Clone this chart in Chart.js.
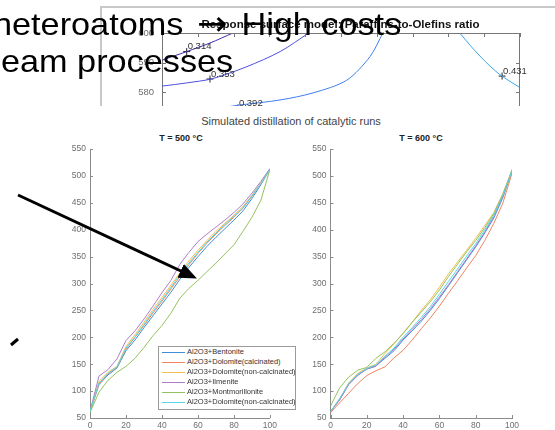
<!DOCTYPE html>
<html>
<head>
<meta charset="utf-8">
<script src="https://cdn.jsdelivr.net/npm/chart.js@4.4.1/dist/chart.umd.min.js"></script>
<style>
html, body { margin: 0; padding: 0; background: #fff; overflow: hidden; }
#page { position: relative; width: 555px; height: 430px; overflow: hidden; background: #fff;
        font-family: "Liberation Sans", Arial, sans-serif; }
#rsm { position: absolute; left: 100px; top: 6px; width: 455px; height: 98px; overflow: hidden;
       border-left: 2px solid #c8c8c8; border-top: 2px solid #c8c8c8; background: #fff; z-index: 1; }
#rsm canvas { position: absolute; left: 0; top: 0; }
.abs { position: absolute; white-space: nowrap; }
.title { text-align: center; z-index: 2; }
.slide { font-size: 32px; line-height: 38px; color: #000; transform: scaleX(1.07); transform-origin: 0 0; z-index: 5; }
.arrow { font-family: "DejaVu Sans", sans-serif; font-size: 34px; margin: 0 4px 0 4px; }
#c500, #c600 { position: absolute; top: 140px; z-index: 2; }
#c500 { left: 40px; }
#c600 { left: 290px; }
#legend { position: absolute; left: 158px; top: 346px; width: 136px; height: 62px; border: 1px solid #9a9a9a;
          background: #fff; z-index: 3; font-size: 7.5px; color: #333; }
#legend .row { position: relative; height: 10px; line-height: 10px; white-space: nowrap; }
#legend .swatch { position: absolute; left: 3px; top: 5px; width: 23px; height: 1px; }
#legend .txt { position: absolute; left: 28px; top: 0; white-space: nowrap; }
#ann { position: absolute; left: 0; top: 0; z-index: 6; }
</style>
</head>
<body>
<div id="page">
  <div id="rsm"><canvas id="rsmChart" width="455" height="180"></canvas></div>
  <div class="abs title" style="left:140px; width:401px; top:17px; line-height:14px; font-size:11.5px; font-weight:bold; color:#111;">Response surface model: Paraffins-to-Olefins ratio</div>

  <div class="abs slide" style="left:-7px; top:4px;">heteroatoms <span class="arrow">→</span> High costs</div>
  <div class="abs slide" style="left:1px; top:42px;">eam processes</div>

  <div class="abs title" style="left:141px; width:300px; top:114px; line-height:14px; font-size:11px; color:#444;">Simulated distillation of catalytic runs</div>
  <div class="abs title" style="left:131px; width:100px; top:132px; line-height:12px; font-size:9px; font-weight:bold; color:#222;">T = 500 °C</div>
  <div class="abs title" style="left:371px; width:100px; top:132px; line-height:12px; font-size:9px; font-weight:bold; color:#222;">T = 600 °C</div>

  <canvas id="c500" width="240" height="300"></canvas>
  <canvas id="c600" width="265" height="300"></canvas>
  <div id="legend"></div>

  <svg id="ann" width="555" height="430">
    <defs>
      <marker id="head" markerWidth="6" markerHeight="5" refX="0.5" refY="2.5" orient="auto" markerUnits="strokeWidth">
        <path d="M0,0 L6,2.5 L0,5 z" fill="#000"></path>
      </marker>
    </defs>
    <line x1="18" y1="195" x2="182" y2="271.5" stroke="#000" stroke-width="3" marker-end="url(#head)"></line>
    <line x1="11" y1="345" x2="18" y2="339" stroke="#000" stroke-width="3"></line>
  </svg>
</div>

<script>
// distillation curves: % distilled vs boiling temperature (°C)
const distilledPct = [0, 5, 10, 15, 20, 25, 30, 35, 40, 45, 50, 55, 60, 65, 70, 75, 80, 85, 90, 95, 100];

const seriesNames = ['Al2O3+Bentonite', 'Al2O3+Dolomite(calcinated)', 'Al2O3+Dolomite(non-calcinated)',
                     'Al2O3+Ilmenite', 'Al2O3+Montmorillonite', 'Al2O3+Dolomite(non-calcinated)'];
const seriesColors = ['#3d8fd6', '#ef8460', '#f2be4e', '#b27cc8', '#94c25e', '#55d6e6'];

// T = 500 °C
const bentonite500   = [62, 112, 130, 143, 175, 195, 218, 240, 262, 284, 308, 330, 350, 369, 386, 402, 418, 435, 458, 484, 512];
const dolomiteCal500 = [62, 113, 132, 144, 178, 200, 222, 245, 267, 290, 313, 335, 356, 375, 392, 408, 423, 440, 462, 486, 512];
const dolomiteNon500 = [62, 118, 135, 146, 183, 205, 228, 252, 274, 297, 320, 342, 362, 380, 397, 412, 427, 443, 464, 487, 512];
const ilmenite500    = [62, 128, 140, 160, 194, 212, 234, 258, 283, 306, 336, 358, 378, 392, 405, 418, 432, 448, 468, 490, 514];
const montmor500     = [60, 98, 120, 135, 146, 161, 181, 203, 222, 245, 273, 291, 306, 322, 338, 355, 372, 397, 423, 455, 512];
const dolomiteNon2_500 = [62, 115, 133, 145, 180, 201, 224, 248, 270, 293, 317, 338, 358, 377, 394, 410, 425, 441, 463, 486, 512];

// T = 600 °C
const bentonite600   = [62, 84, 113, 130, 141, 147, 161, 175, 195, 212, 230, 250, 272, 296, 320, 344, 368, 394, 422, 460, 510];
const dolomiteCal600 = [60, 78, 96, 114, 129, 138, 145, 162, 176, 195, 216, 236, 258, 282, 305, 329, 352, 380, 412, 450, 505];
const dolomiteNon600 = [62, 85, 115, 133, 143, 150, 170, 188, 208, 228, 250, 270, 293, 318, 340, 362, 384, 408, 432, 468, 510];
const ilmenite600    = [62, 83, 112, 129, 141, 146, 163, 178, 197, 215, 233, 253, 275, 298, 322, 346, 370, 396, 425, 462, 510];
const montmor600     = [72, 106, 126, 139, 144, 161, 173, 189, 207, 228, 247, 266, 288, 313, 336, 359, 380, 404, 430, 466, 512];
const dolomiteNon2_600 = [62, 86, 114, 131, 142, 149, 165, 180, 200, 218, 237, 257, 280, 304, 327, 351, 374, 400, 427, 464, 510];

const yTicks = [50, 550, 50];   // min, max, step
const xTicks = [0, 100, 20];

// response surface contours (top panel)
const contourLevels = [0.314, 0.353, 0.392, 0.431];
const contourColors = ['#3e2aae', '#4f4fe2', '#3f7ff0', '#3fa6ec'];
const contourX = [
  [0, 0.69, 1.34, 1.98],
  [0, 0.70, 1.40, 2.35, 3.30, 4.10],
  [1.20, 1.79, 2.18, 3.30, 4.22, 5.16, 5.81, 6.17],
  [8.32, 8.60, 8.88, 9.16, 9.44, 9.72, 10]
];
const contourY = [
  [590.8, 593.7, 596.6, 600],
  [582.0, 583.1, 584.5, 588.5, 593.7, 600],
  [574.0, 574.9, 575.6, 577.3, 579.7, 584.0, 592.0, 600],
  [600, 595.9, 592.2, 588.8, 585.9, 583.6, 581.5]
];
const labelX = [0.69, 1.34, 2.12, 9.50];
const labelY = [593.7, 584.4, 574.6, 585.4];

const axisColor = '#8c8c8c';
const tickColor = '#6e6e6e';
Chart.defaults.font.family = '"Liberation Sans", Arial, sans-serif';

// MATLAB-like ticks pointing into the plot
const inwardTicks = {
  id: 'inwardTicks',
  afterDatasetsDraw(chart, args, opts) {
    const {ctx, chartArea: a, scales: {x, y}} = chart;
    const len = opts.length || 3;
    ctx.save();
    ctx.strokeStyle = opts.color || axisColor;
    ctx.lineWidth = 1;
    ctx.beginPath();
    x.ticks.forEach(t => {
      const px = Math.round(x.getPixelForValue(t.value)) + 0.5;
      ctx.moveTo(px, a.bottom); ctx.lineTo(px, a.bottom - len);
      if (opts.box) { ctx.moveTo(px, a.top); ctx.lineTo(px, a.top + len); }
    });
    y.ticks.forEach(t => {
      const py = Math.round(y.getPixelForValue(t.value)) + 0.5;
      ctx.moveTo(a.left, py); ctx.lineTo(a.left + len, py);
      if (opts.box) { ctx.moveTo(a.right, py); ctx.lineTo(a.right - len, py); }
    });
    if (opts.box) {
      ctx.moveTo(a.left, Math.round(a.top) + 0.5); ctx.lineTo(a.right, Math.round(a.top) + 0.5);
      ctx.moveTo(Math.round(a.right) - 0.5, a.top); ctx.lineTo(Math.round(a.right) - 0.5, a.bottom);
    }
    ctx.stroke();
    ctx.restore();
  }
};

const contourText = {
  id: 'contourText',
  afterDatasetsDraw(chart) {
    const {ctx, scales: {x, y}} = chart;
    ctx.save();
    ctx.font = '9.5px "Liberation Sans", Arial, sans-serif';
    ctx.fillStyle = '#333';
    ctx.textBaseline = 'middle';
    ctx.textAlign = 'left';
    contourLevels.forEach((lv, i) => {
      ctx.fillText(lv.toFixed(3), x.getPixelForValue(labelX[i]) + 1, y.getPixelForValue(labelY[i]) - 5);
    });
    ctx.restore();
  }
};

function distChart(id, runs, yWidth, padRight) {
  return new Chart(document.getElementById(id), {
    type: 'line',
    data: {
      datasets: runs.map((vals, i) => ({
        label: seriesNames[i],
        data: distilledPct.map((p, j) => ({x: p, y: vals[j]})),
        borderColor: seriesColors[i],
        borderWidth: 1,
        pointRadius: 0,
        tension: 0,
        fill: false,
        order: runs.length - i
      }))
    },
    options: {
      responsive: false,
      animation: false,
      events: [],
      layout: {padding: {top: 6, right: padRight, left: 0, bottom: 0}},
      plugins: {legend: {display: false}, tooltip: {enabled: false}, inwardTicks: {length: 3}},
      scales: {
        x: {
          type: 'linear', min: xTicks[0], max: xTicks[1],
          ticks: {stepSize: xTicks[2], padding: 3, color: tickColor, font: {size: 8.5}, maxRotation: 0},
          grid: {display: false, drawTicks: false},
          border: {color: axisColor},
          afterFit: s => { s.height = 22; }
        },
        y: {
          min: yTicks[0], max: yTicks[1],
          ticks: {stepSize: yTicks[2], padding: 4, color: tickColor, font: {size: 8.5}},
          grid: {display: false, drawTicks: false},
          border: {color: axisColor},
          afterFit: s => { s.width = yWidth; }
        }
      }
    },
    plugins: [inwardTicks]
  });
}

distChart('c500', [bentonite500, dolomiteCal500, dolomiteNon500, ilmenite500, montmor500, dolomiteNon2_500], 50, 9);
distChart('c600', [bentonite600, dolomiteCal600, dolomiteNon600, ilmenite600, montmor600, dolomiteNon2_600], 40.5, 43);

// legend drawn inside the left axes
const legendEl = document.getElementById('legend');
seriesNames.forEach((name, i) => {
  const row = document.createElement('div');
  row.className = 'row';
  row.innerHTML = '<span class="swatch" style="background:' + seriesColors[i] + '"></span><span class="txt">' + name + '</span>';
  legendEl.appendChild(row);
});

new Chart(document.getElementById('rsmChart'), {
  type: 'scatter',
  data: {
    datasets: contourLevels.map((lv, i) => ({
      label: String(lv),
      data: contourX[i].map((x, j) => ({x: x, y: contourY[i][j]})),
      showLine: true,
      borderColor: contourColors[i],
      borderWidth: 1,
      pointRadius: 0,
      tension: 0.3
    })).concat([{
      label: 'labels',
      data: labelX.map((x, i) => ({x: x, y: labelY[i]})),
      pointStyle: 'cross',
      pointRadius: 3.5,
      borderColor: '#222',
      borderWidth: 1,
      showLine: false
    }])
  },
  options: {
    responsive: false,
    animation: false,
    events: [],
    layout: {padding: {top: 25, right: 37, left: 0, bottom: 0}},
    plugins: {legend: {display: false}, tooltip: {enabled: false}, inwardTicks: {length: 4, box: true, color: '#777'}},
    scales: {
      x: {
        type: 'linear', min: 0, max: 10,
        ticks: {stepSize: 1, display: false},
        grid: {display: false, drawTicks: false},
        border: {color: '#777'},
        afterFit: s => { s.height = 37; }
      },
      y: {
        min: 560, max: 600,
        ticks: {stepSize: 10, padding: 8, color: tickColor, font: {size: 9.5}},
        grid: {display: false, drawTicks: false},
        border: {color: '#777'},
        afterFit: s => { s.width = 60; }
      }
    }
  },
  plugins: [inwardTicks, contourText]
});
</script>
</body>
</html>
